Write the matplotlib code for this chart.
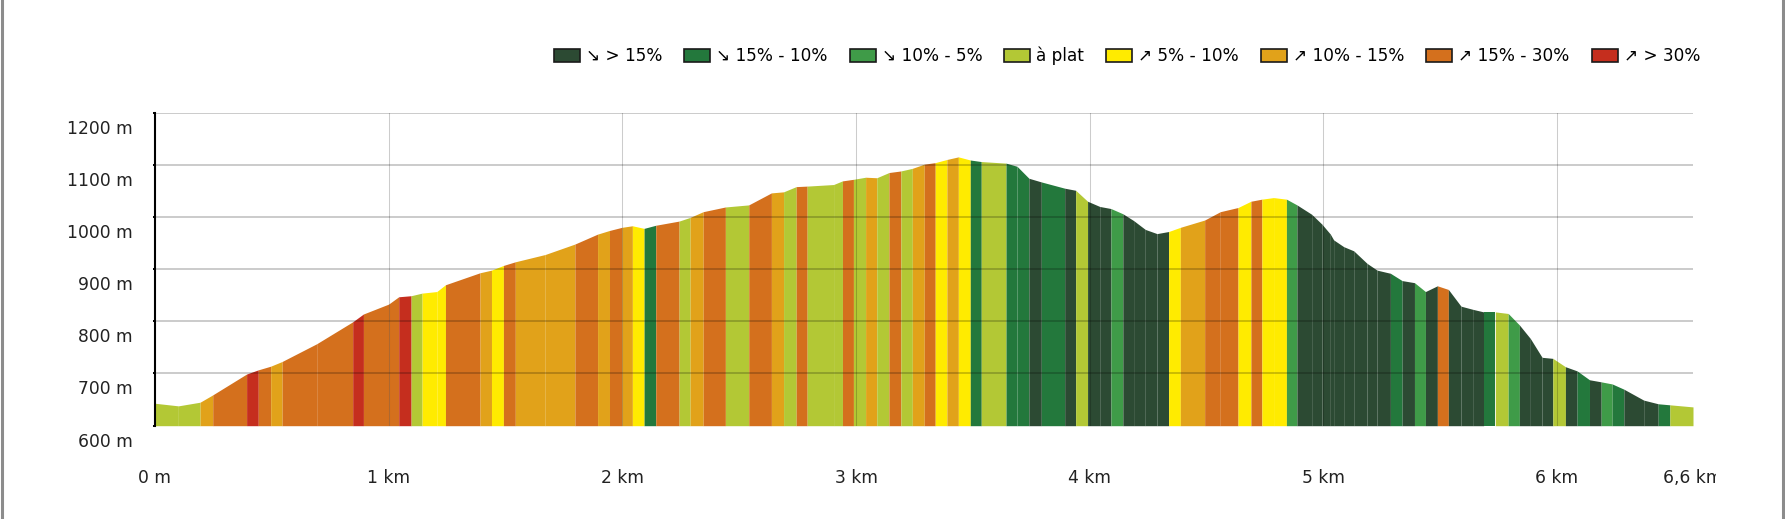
import matplotlib
matplotlib.use("Agg")
import matplotlib.pyplot as plt
from matplotlib.patches import Patch
from matplotlib.lines import Line2D
from matplotlib.transforms import ScaledTranslation, Bbox, TransformedBbox

# profile points (distance in km, altitude in m)
dist_km = [0.000, 0.100, 0.193, 0.247, 0.392, 0.442, 0.495, 0.544, 0.692, 0.846,
           0.892, 1.000, 1.043, 1.096, 1.143, 1.206, 1.243, 1.391, 1.440, 1.491,
           1.542, 1.670, 1.797, 1.894, 1.945, 1.998, 2.043, 2.093, 2.143, 2.243,
           2.290, 2.346, 2.441, 2.541, 2.638, 2.690, 2.744, 2.791, 2.904, 2.942,
           2.989, 3.041, 3.089, 3.141, 3.192, 3.241, 3.292, 3.339, 3.389, 3.438,
           3.489, 3.536, 3.642, 3.689, 3.740, 3.793, 3.893, 3.940, 3.991, 4.043,
           4.091, 4.142, 4.188, 4.238, 4.288, 4.338, 4.388, 4.492, 4.559, 4.635,
           4.690, 4.737, 4.787, 4.842, 4.887, 4.950, 4.994, 5.030, 5.044, 5.087,
           5.130, 5.187, 5.230, 5.287, 5.337, 5.390, 5.437, 5.488, 5.535, 5.589,
           5.639, 5.686, 5.736, 5.791, 5.839, 5.886, 5.936, 5.982, 6.036, 6.086,
           6.139, 6.189, 6.236, 6.286, 6.371, 6.433, 6.483, 6.582]

elev_m = [643, 638, 645, 659, 699, 707, 714, 723, 757, 799,
          814, 833, 847, 849, 854, 857, 870, 893, 898, 907,
          914, 928, 948, 967, 974, 980, 983, 978, 984, 992,
          999, 1010, 1019, 1023, 1046, 1048, 1058, 1059, 1062, 1069,
          1072, 1076, 1075, 1085, 1088, 1093, 1101, 1104, 1110, 1115,
          1109, 1106, 1103, 1097, 1074, 1067, 1055, 1051, 1030, 1020,
          1016, 1006, 993, 976, 968, 972, 980, 994, 1010, 1018,
          1030, 1034, 1037, 1034, 1023, 1005, 986, 967, 956, 943,
          935, 911, 898, 892, 878, 874, 857, 868, 861, 829,
          823, 818, 818, 815, 793, 767, 731, 729, 713, 705,
          688, 684, 680, 670, 649, 642, 640, 636]

# slope class of each segment (index into slope_labels)
slope_class = [3, 3, 5, 6, 7, 6, 5, 6, 6, 7,
               6, 6, 7, 3, 4, 4, 6, 5, 4, 6,
               5, 5, 6, 5, 6, 5, 4, 1, 6, 3,
               5, 6, 3, 6, 5, 3, 6, 3, 3, 6,
               3, 5, 3, 6, 3, 5, 6, 4, 5, 4,
               1, 3, 1, 1, 0, 1, 0, 3, 0, 0,
               2, 0, 0, 0, 0, 4, 5, 6, 6, 4,
               6, 4, 4, 2, 0, 0, 0, 0, 0, 0,
               0, 0, 0, 1, 0, 2, 0, 6, 0, 0,
               0, 1, 3, 2, 0, 0, 0, 3, 0, 1,
               0, 2, 1, 0, 0, 1, 3]

slope_labels = ["↘ > 15%", "↘ 15% - 10%", "↘ 10% - 5%", "à plat",
                "↗ 5% - 10%", "↗ 10% - 15%", "↗ 15% - 30%", "↗ > 30%"]
slope_colors = ["#2c4a33", "#23783c", "#3f9b48", "#b3c835",
                "#ffeb00", "#e1a21a", "#d4701d", "#c52e1e"]

y_ticks = [600, 700, 800, 900, 1000, 1100, 1200]
x_ticks = [0, 1, 2, 3, 4, 5, 6, 6.582]
x_labels = ["0 m", "1 km", "2 km", "3 km", "4 km", "5 km", "6 km", "6,6 km"]

W, H = 1785, 519
fig = plt.figure(figsize=(W / 100, H / 100), dpi=100)
ax = fig.add_axes([155 / W, 1 - 425.7 / H, (1693 - 155) / W, (425.7 - 112.5) / H])

for i in range(len(slope_class)):
    ax.fill_between(dist_km[i:i + 2], elev_m[i:i + 2], 600,
                    color=slope_colors[slope_class[i]], lw=0, zorder=1)

# grid over the profile
for y in y_ticks[1:]:
    ax.axhline(y, color="black", alpha=0.2, lw=1.45, zorder=3)
for x in x_ticks[1:-1]:
    ax.axvline(x, color="black", alpha=0.2, lw=0.75, zorder=3)

ax.set_xlim(0, dist_km[-1])
ax.set_ylim(600, 1200)
for side in ["top", "right", "bottom"]:
    ax.spines[side].set_visible(False)
ax.spines["left"].set_linewidth(1.5)
ax.spines["left"].set_zorder(4)

ax.set_yticks(y_ticks)
ax.set_yticklabels([f"{y} m" for y in y_ticks])
ax.set_xticks(x_ticks)
ax.set_xticklabels(x_labels)
ax.tick_params(axis="y", length=1.5, width=1.4, pad=14.5, labelsize=12.3, labelcolor="#222222")
ax.tick_params(axis="x", length=0, pad=31, labelsize=12.3, labelcolor="#222222")

shift = ScaledTranslation(0, -14 / 100, fig.dpi_scale_trans)
for lab in ax.get_yticklabels():
    lab.set_transform(lab.get_transform() + shift)

# last label is cut at the chart edge
last = ax.get_xticklabels()[-1]
last.set_clip_on(True)
last.set_clip_box(TransformedBbox(Bbox([[0, 0], [1716 / W, 1]]), fig.transFigure))

handles = [Patch(facecolor=c, edgecolor="#1a1a1a", lw=1.2) for c in slope_colors]
fig.legend(handles, slope_labels, loc="center right",
           bbox_to_anchor=(1700 / W, 1 - 56 / H), ncol=8, frameon=False,
           fontsize=12.2, handlelength=1.53, handleheight=0.82,
           handletextpad=0.35, columnspacing=1.31, borderpad=0, borderaxespad=0)

# grey frame on the sides
fig.add_artist(Line2D([1.5 / W, 1.5 / W], [0, 1], transform=fig.transFigure, color="#8c8c8c", lw=2.2))
fig.add_artist(Line2D([(W - 2) / W, (W - 2) / W], [0, 1], transform=fig.transFigure, color="#8c8c8c", lw=2.2))

fig.savefig("out.png", dpi=100)
